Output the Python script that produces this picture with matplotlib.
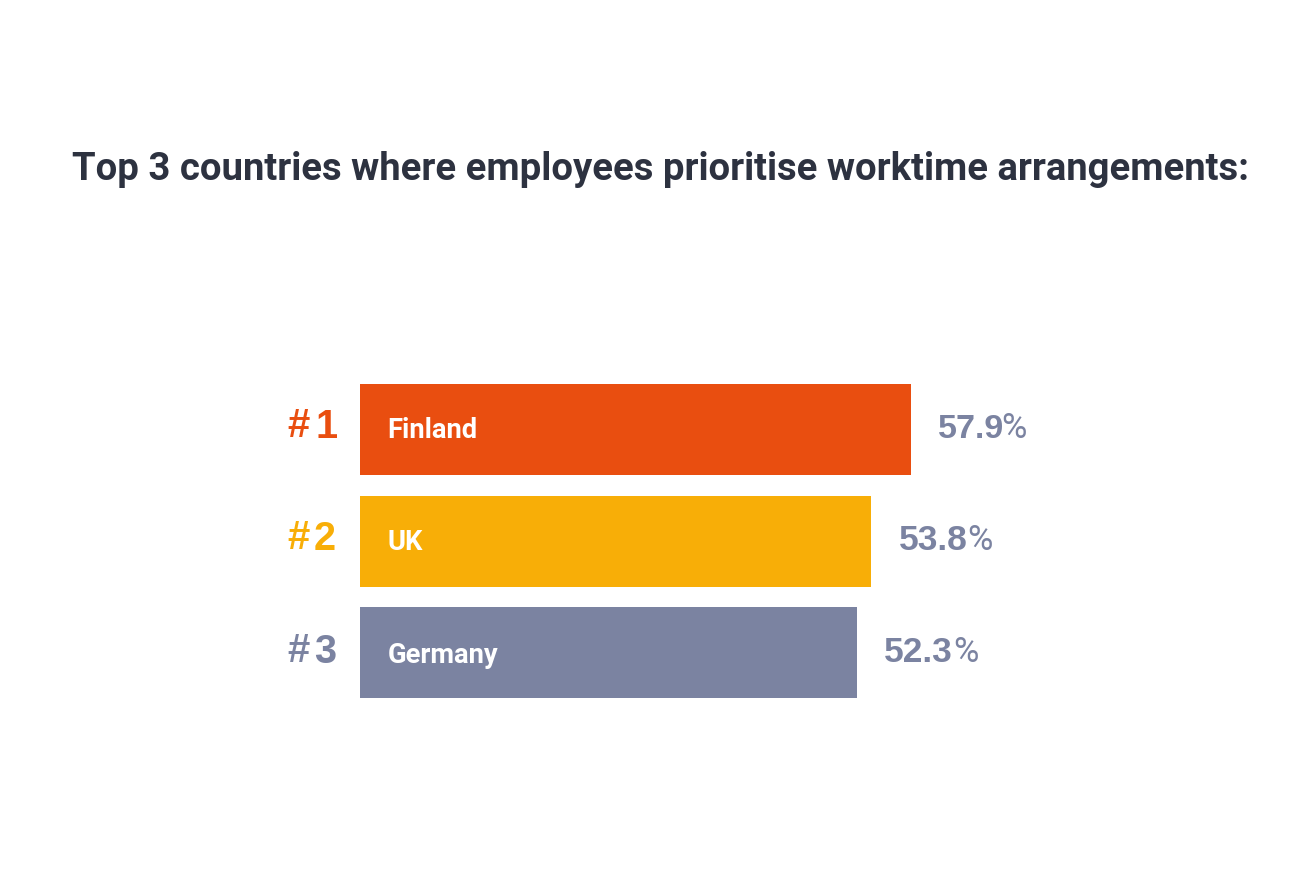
import matplotlib
matplotlib.use('Agg')
import matplotlib.pyplot as plt

plt.rcParams['font.family'] = ['Roboto', 'DejaVu Sans']

countries = ['Finland', 'UK', 'Germany']
values = [57.9, 53.8, 52.3]
ranks = ['1', '2', '3']
colors = ['#E94E10', '#F8AE07', '#7B83A1']
title = 'Top 3 countries where employees prioritise worktime arrangements:'

W, H = 1298, 882
fig = plt.figure(figsize=(W / 100, H / 100), dpi=100)

# axes span bar area: left edge at x=359.5, value scale from pixel widths
x0 = 359.5
px_per_unit = (910.5 - x0) / values[0]
ax = fig.add_axes([x0 / W, 0, (W - x0) / W, 1])
ax.set_xlim(0, (W - x0) / px_per_unit)
ax.set_ylim(H, 0)
ax.axis('off')

centers = [429.5, 541, 652.5]
ax.barh(centers, values, height=91, color=colors, linewidth=0)

def xpx(p):
    return (p - x0) / px_per_unit

name_base = [438, 550, 663]
value_base = [438.5, 550, 661.5]
value_size = [24.5, 25.5, 25.5]
pct_gap = [-1.5, 0, 0]
rank_base = [438, 550, 663]
rank_x = [315, 314, 314]
for i, c in enumerate(countries):
    col = colors[i]
    ax.text(xpx(387.5), name_base[i], c, color='white', fontsize=19.7, fontweight='bold',
            ha='left', va='baseline')
    # value label: number bold, percent sign regular
    t = ax.text(values[i] + 27 / px_per_unit, value_base[i], f'{values[i]}', color='#7B83A1',
                fontsize=value_size[i], fontweight='bold', family='Liberation Sans',
                ha='left', va='baseline')
    ax.annotate('%', xy=(1, value_base[i]), xycoords=(t, 'data'), xytext=(pct_gap[i], 0),
                textcoords='offset points', color='#7B83A1', fontsize=25,
                ha='left', va='baseline')
    ax.text(xpx(287), rank_base[i] - 1, '#', color=col, fontsize=29, fontweight='bold',
            family='Liberation Sans', ha='left', va='baseline')
    ax.text(xpx(rank_x[i]), rank_base[i], ranks[i], color=col, fontsize=28.5, fontweight='bold',
            family='Liberation Sans', ha='left', va='baseline')

fig.text(660 / W, 1 - 169 / H, title, color='#2D3240', fontsize=27.5, fontweight='bold',
         ha='center', va='center')

fig.savefig('out.png', dpi=100, facecolor='white')
